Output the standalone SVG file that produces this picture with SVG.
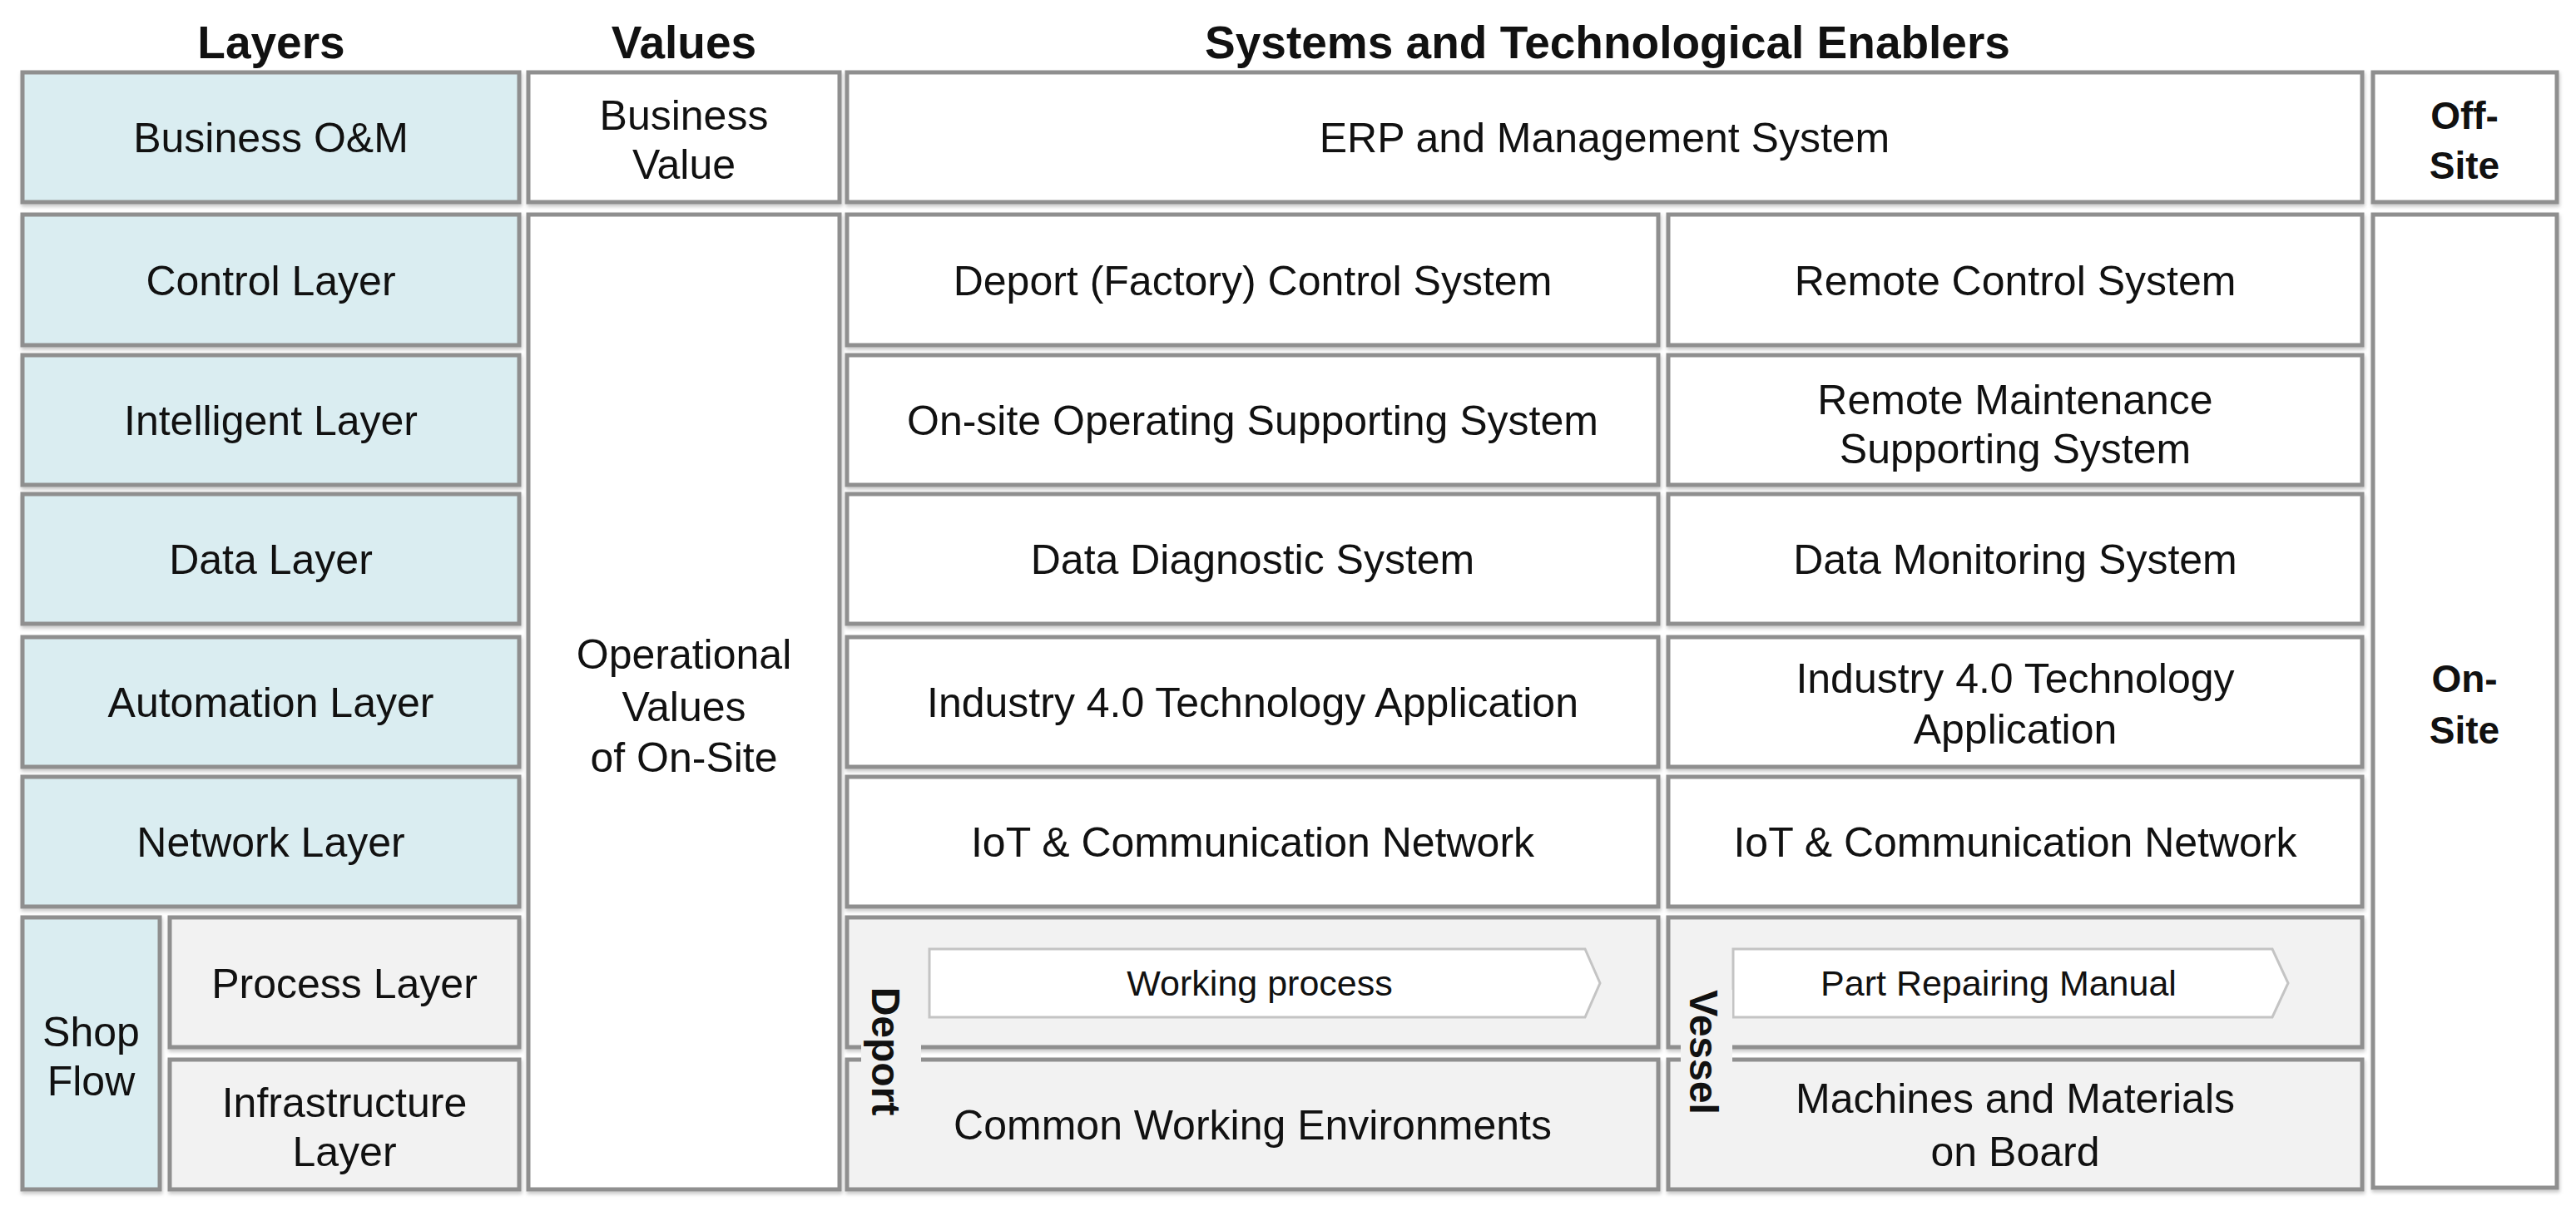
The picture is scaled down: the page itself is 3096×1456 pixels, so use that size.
<svg xmlns="http://www.w3.org/2000/svg" width="3096" height="1456" viewBox="0 0 3096 1456">
<defs>
<filter id="sh" x="-5%" y="-5%" width="110%" height="115%">
<feDropShadow dx="1" dy="3" stdDeviation="2" flood-color="#000" flood-opacity="0.22"/>
</filter>
<style>
.box{stroke:#8f8f8f;stroke-width:5;filter:url(#sh)}
.lay{fill:#daedf1}
.wht{fill:#ffffff}
.gry{fill:#f2f2f2}
.arr{fill:#ffffff;stroke:#c4c4c4;stroke-width:3}
.lbg{fill:#f2f2f2;stroke:none}
text{font-family:"Liberation Sans",Arial,sans-serif;fill:#111;text-anchor:middle}
.t{font-size:50px}
.s{font-size:43px}
.h{font-size:55px;font-weight:bold}
.b{font-size:46px;font-weight:bold}
.v{font-size:48px;font-weight:bold}
</style>
</defs>
<rect width="3096" height="1456" fill="#ffffff"/>
<g id="headers">
<text class="h" x="326" y="70">Layers</text>
<text class="h" x="822" y="70">Values</text>
<text class="h" x="1932" y="70">Systems and Technological Enablers</text>
</g>
<g id="connectors"></g>
<g id="layer-business"><rect class="box lay" x="27" y="87" width="597" height="156"/><text class="t" x="325.5" y="183">Business O&amp;M</text></g>
<g id="value-business"><rect class="box wht" x="635" y="87" width="374" height="156"/><text class="t" x="822" y="156">Business</text><text class="t" x="822" y="215">Value</text></g>
<g id="erp"><rect class="box wht" x="1018" y="87" width="1821" height="156"/><text class="t" x="1928.5" y="183">ERP and Management System</text></g>
<g id="offsite"><rect class="box wht" x="2852" y="87" width="221" height="156"/><text class="b" x="2962" y="155">Off-</text><text class="b" x="2962" y="215">Site</text></g>

<g id="layer-control"><rect class="box lay" x="27" y="258" width="597" height="157"/><text class="t" x="325.5" y="355">Control Layer</text></g>
<g id="layer-intelligent"><rect class="box lay" x="27" y="427" width="597" height="156"/><text class="t" x="325.5" y="523">Intelligent Layer</text></g>
<g id="layer-data"><rect class="box lay" x="27" y="594" width="597" height="156"/><text class="t" x="325.5" y="690">Data Layer</text></g>
<g id="layer-automation"><rect class="box lay" x="27" y="766" width="597" height="156"/><text class="t" x="325.5" y="862">Automation Layer</text></g>
<g id="layer-network"><rect class="box lay" x="27" y="934" width="597" height="156"/><text class="t" x="325.5" y="1030">Network Layer</text></g>
<g id="shop-flow"><rect class="box lay" x="27" y="1103" width="165" height="327"/><text class="t" x="109.5" y="1258">Shop</text><text class="t" x="109.5" y="1317">Flow</text></g>
<g id="process-layer"><rect class="box gry" x="204" y="1103" width="420" height="156"/><text class="t" x="414" y="1200">Process Layer</text></g>
<g id="infrastructure-layer"><rect class="box gry" x="204" y="1274" width="420" height="156"/><text class="t" x="414" y="1343">Infrastructure</text><text class="t" x="414" y="1402">Layer</text></g>

<g id="operational-values"><rect class="box wht" x="635" y="258" width="374" height="1172"/><text class="t" x="822" y="804">Operational</text><text class="t" x="822" y="867">Values</text><text class="t" x="822" y="928">of On-Site</text></g>

<g id="deport-control"><rect class="box wht" x="1018" y="258" width="975" height="157"/><text class="t" x="1505.5" y="355">Deport (Factory) Control System</text></g>
<g id="onsite-operating"><rect class="box wht" x="1018" y="427" width="975" height="156"/><text class="t" x="1505.5" y="523">On-site Operating Supporting System</text></g>
<g id="data-diagnostic"><rect class="box wht" x="1018" y="594" width="975" height="156"/><text class="t" x="1505.5" y="690">Data Diagnostic System</text></g>
<g id="industry-left"><rect class="box wht" x="1018" y="766" width="975" height="156"/><text class="t" x="1505.5" y="862">Industry 4.0 Technology Application</text></g>
<g id="iot-left"><rect class="box wht" x="1018" y="934" width="975" height="156"/><text class="t" x="1505.5" y="1030">IoT &amp; Communication Network</text></g>
<g id="deport-process"><rect class="box gry" x="1018" y="1103" width="975" height="156"/><polygon class="arr" points="1117,1141 1905,1141 1923,1182 1905,1223 1117,1223"/><text class="s" x="1514" y="1197">Working process</text></g>
<g id="common-working"><rect class="box gry" x="1018" y="1274" width="975" height="156"/><text class="t" x="1505.5" y="1370">Common Working Environments</text></g>

<g id="remote-control"><rect class="box wht" x="2005" y="258" width="834" height="157"/><text class="t" x="2422" y="355">Remote Control System</text></g>
<g id="remote-maintenance"><rect class="box wht" x="2005" y="427" width="834" height="156"/><text class="t" x="2422" y="498">Remote Maintenance</text><text class="t" x="2422" y="557">Supporting System</text></g>
<g id="data-monitoring"><rect class="box wht" x="2005" y="594" width="834" height="156"/><text class="t" x="2422" y="690">Data Monitoring System</text></g>
<g id="industry-right"><rect class="box wht" x="2005" y="766" width="834" height="156"/><text class="t" x="2422" y="833">Industry 4.0 Technology</text><text class="t" x="2422" y="894">Application</text></g>
<g id="iot-right"><rect class="box wht" x="2005" y="934" width="834" height="156"/><text class="t" x="2422" y="1030">IoT &amp; Communication Network</text></g>
<g id="vessel-process"><rect class="box gry" x="2005" y="1103" width="834" height="156"/><polygon class="arr" points="2083,1141 2731,1141 2750,1182 2731,1223 2083,1223"/><text class="s" x="2402" y="1197">Part Repairing Manual</text></g>
<g id="machines-materials"><rect class="box gry" x="2005" y="1274" width="834" height="156"/><text class="t" x="2422" y="1338">Machines and Materials</text><text class="t" x="2422" y="1402">on Board</text></g>

<g id="onsite"><rect class="box wht" x="2852" y="258" width="221" height="1170"/><text class="b" x="2962" y="832">On-</text><text class="b" x="2962" y="894">Site</text></g>

<g id="deport-label"><rect class="lbg" x="1035" y="1176" width="72" height="176"/><text class="v" transform="translate(1065,1264) rotate(90)" x="0" y="17">Deport</text></g>
<g id="vessel-label"><rect class="lbg" x="2020" y="1190" width="62" height="150"/><text class="v" transform="translate(2048,1265) rotate(90)" x="0" y="17">Vessel</text></g>
</svg>
